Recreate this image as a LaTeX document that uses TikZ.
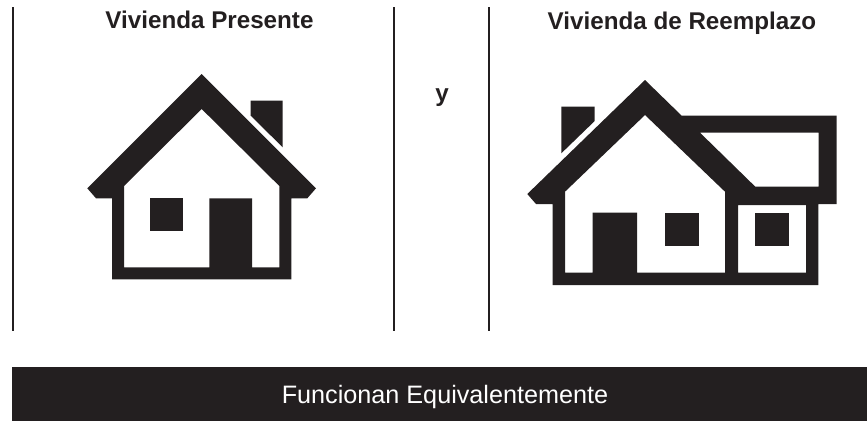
\documentclass[tikz,border=0pt]{standalone}
\usepackage{fontspec}
\setmainfont{Liberation Sans}
\definecolor{inkblack}{HTML}{231F20}
\begin{document}
\begin{tikzpicture}[x=1pt,y=-1pt]
        \useasboundingbox (0,0) rectangle (867,421);
        \tikzstyle{every node}=[inner sep=0pt]
        \tikzstyle{heading}=[text=inkblack,font=\fontsize{24.2}{24}\selectfont\bfseries,anchor=base]
        \tikzstyle{divider}=[draw=inkblack,line width=1.6pt]
        \tikzstyle{house}=[fill=inkblack,even odd rule]
        \node[heading] (present) at (209.5, 28.5) {Vivienda Presente};
        \node[heading] (reemplazo) at (682, 29) {Vivienda de Reemplazo};
        \node[heading] (conj) at (442, 101.5) {y};
        \node[fill=inkblack,minimum width=855pt,minimum height=54pt,anchor=north west] (banner) at (12, 367) {};
        \node[text=white,font=\fontsize{25.2}{25}\selectfont,anchor=base] (bannertext) at (445, 403) {Funcionan Equivalentemente};
        % dividing rules
        \foreach \name/\xpos in {left/13, mid/394, right/489} {
            \coordinate (\name-top) at (\xpos, 7);
            \coordinate (\name-end) at (\xpos, 331);
            \draw[divider] (\name-top) -- (\name-end);
        }
        % present house
        \fill[house] (201.7,74) -- (316,188.3) -- (307.3,198.3) -- (291.3,198.3) -- (291.3,279.3)
            -- (112,279.3) -- (112,198.3) -- (96,198.3) -- (87.3,188.3) -- cycle
            (201.7,109) -- (279.3,186) -- (279.3,267.3) -- (252,267.3) -- (252,198.3)
            -- (209.3,198.3) -- (209.3,267.3) -- (124,267.3) -- (124,186) -- cycle;
        \fill[house] (150,198.3) rectangle (183,230.7);
        \fill[house] (250.7,100.7) -- (282.7,100.7) -- (282.7,147.3) -- (250.7,115.7) -- cycle;
        % replacement house
        \fill[house] (645,80) -- (681.7,115.7) -- (836.7,115.7) -- (836.7,204) -- (818.3,204)
            -- (818.3,285) -- (552.7,285) -- (552.7,204) -- (536,204) -- (527.3,194) -- cycle
            (645,115) -- (725,191.7) -- (725,272.7) -- (637,272.7) -- (637,212.7)
            -- (592.7,212.7) -- (592.7,272.7) -- (565,272.7) -- (565,191.7) -- cycle
            (700,132.7) -- (818.7,132.7) -- (818.7,186.7) -- (755.3,186.7) -- cycle
            (738,205) rectangle (806,272.7);
        \fill[house] (665,213) rectangle (699,245.7);
        \fill[house] (755,213) rectangle (789,245.7);
        \fill[house] (561.3,106.7) -- (594.7,106.7) -- (594.7,121) -- (561.3,153.3) -- cycle;
    \end{tikzpicture}
\end{document}
